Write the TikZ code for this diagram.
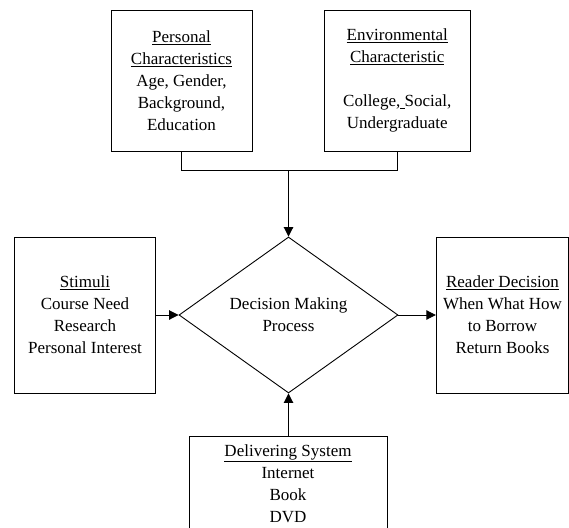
\documentclass[tikz,border=0pt]{standalone}
\usepackage{fontspec}
\setmainfont{Liberation Serif}
\usetikzlibrary{arrows.meta,shapes.geometric}
\begin{document}
\begin{tikzpicture}[x=1pt,y=-1pt,
  box/.style={draw,line width=0.9pt,inner sep=0pt},
  txt/.style={align=center,font=\fontsize{17}{22}\selectfont,inner sep=0pt},
  link/.style={line width=0.9pt},
  arr/.style={line width=0.9pt,-{Triangle[length=9.5pt,width=9.5pt]}}]
\useasboundingbox (0,0) rectangle (569,527);
% boxes
\node[box,minimum width=141pt,minimum height=141pt] (pers) at (181.5,80.5) {};
\node[box,minimum width=146.5pt,minimum height=141pt] (env) at (397.25,80.5) {};
\node[box,minimum width=141pt,minimum height=156pt] (stim) at (85,315) {};
\node[box,minimum width=132.5pt,minimum height=156pt] (read) at (502.5,315) {};
\node[box,minimum width=198pt,minimum height=100pt] (deli) at (288,486) {};
\node[draw,line width=0.9pt,diamond,inner sep=0pt,minimum width=219pt,minimum height=156pt,aspect=1.4] (dec) at (288.5,315) {};
% texts
\node[txt] (perst) at (pers.center) {\underline{Personal}\\\underline{Characteristics}\\Age, Gender,\\Background,\\Education};
\node[txt] (envt) at (env.center) {\underline{Environmental}\\\underline{Characteristic}\\\mbox{}\\College,\underline{\ }Social,\\Undergraduate};
\node[txt] (stimt) at (stim.center) {\underline{Stimuli}\\Course Need\\Research\\Personal Interest};
\node[txt] (readt) at (read.center) {\underline{Reader Decision}\\When What How\\to Borrow\\Return Books};
\node[txt] (dect) at (dec.center) {Decision Making\\Process};
\node[txt,anchor=north] (delit) at (288,444) {\underline{Delivering System}\\Internet\\Book\\DVD};
% connectors
\coordinate (j) at (288.5,170.5);
\draw[link] (pers.south) |- (j) -| (env.south);
\draw[arr] (j) -- (dec.north);
\draw[arr] (stim.east) -- (dec.west);
\draw[arr] (dec.east) -- (read.west);
\draw[arr] (deli.north -| dec.south) -- (dec.south);
\end{tikzpicture}
\end{document}
